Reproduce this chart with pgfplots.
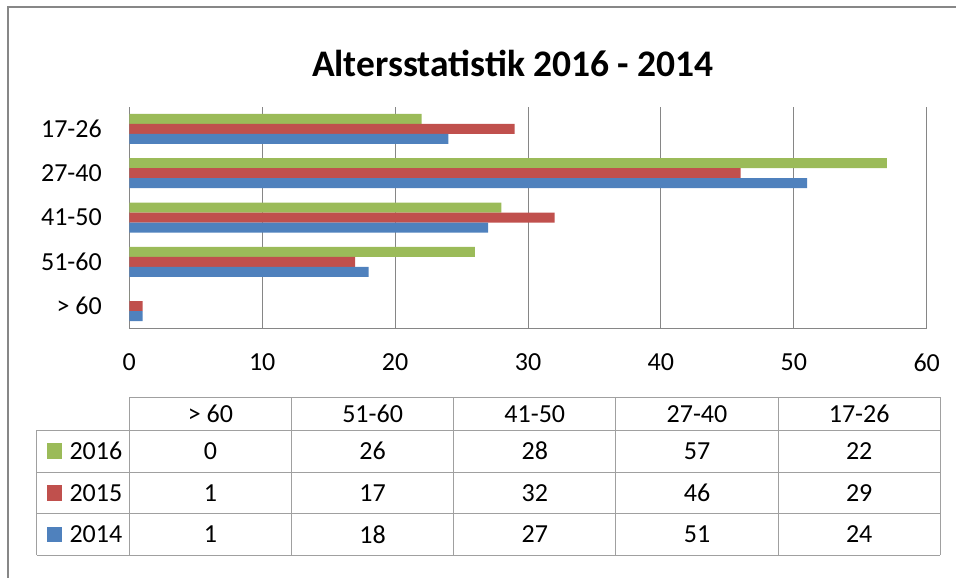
\documentclass[border=0pt]{standalone}
\usepackage{pgfplots}
\pgfplotsset{compat=1.18}
\usepackage{pgfplotstable}
\usepackage{fontspec}
\setmainfont{Carlito}
\definecolor{c16}{HTML}{9BBB59}
\definecolor{c15}{HTML}{C0504D}
\definecolor{c14}{HTML}{4F81BD}
\definecolor{gridc}{HTML}{868686}
\definecolor{tabc}{HTML}{A0A0A0}
\definecolor{framec}{HTML}{878787}

\pgfplotstableread[col sep=comma]{
idx,cat,y2016,y2015,y2014
0,> 60,0,1,1
1,51-60,26,17,18
2,41-50,28,32,27
3,27-40,57,46,51
4,17-26,22,29,24
}\data

\begin{document}
\begin{tikzpicture}[x=1pt,y=1pt,tf/.style={font=\fontsize{26}{30}\selectfont,inner sep=0pt}]
\path[use as bounding box] (0,0) rectangle (956,-578);
% outer frame
\draw[framec,line width=2pt] (8,-600) -- (8,-7) -- (980,-7);
% title
\node[font=\fontsize{37.5}{44}\selectfont\bfseries] at (513,-63) {Altersstatistik 2016 - 2014};
\begin{axis}[
  at={(129.3pt,-328.3pt)}, anchor=south west,
  scale only axis, width=797.4pt, height=221.6pt,
  xmin=0, xmax=60, ymin=-0.5, ymax=4.5,
  xtick={0,10,...,60}, ytick={0,...,4},
  yticklabels={{> 60},51-60,41-50,27-40,17-26},
  xmajorgrids, major grid style={gridc,line width=1pt},
  major tick length=0pt,
  axis x line*=bottom, axis y line*=left,
  axis line style={gridc,line width=1pt,-},
  ticklabel style={font=\fontsize{26}{30}\selectfont},
  /pgf/number format/assume math mode=true,
  xticklabel style={yshift=-22pt},
  yticklabel style={xshift=-24pt},
  xbar, bar width=10pt,
  clip=false,
]
\addplot[fill=c16,draw=none,bar shift=10pt] table[x=y2016,y=idx]{\data};
\addplot[fill=c15,draw=none,bar shift=0pt] table[x=y2015,y=idx]{\data};
\addplot[fill=c14,draw=none,bar shift=-10pt] table[x=y2014,y=idx]{\data};
\end{axis}
% data table
\draw[tabc,line width=1pt] (129.3,-397.3) -- (940.3,-397.3);
\foreach \yy in {430,472.3,513.3,555.3}{
  \draw[tabc,line width=1pt] (36.7,-\yy) -- (940.3,-\yy);
}
\draw[tabc,line width=1pt] (36.7,-430) -- (36.7,-555.3);
\foreach \xx in {129.3,291.5,453.7,615.9,778.1,940.3}{
  \draw[tabc,line width=1pt] (\xx,-397.3) -- (\xx,-555.3);
}
% legend keys
\fill[c16] (46.7,-443.4) rectangle (62.3,-459.0);
\node[tf,anchor=west] at (69.3,-451.2) {2016};
\fill[c15] (46.7,-485.0) rectangle (62.3,-500.6);
\node[tf,anchor=west] at (69.3,-492.8) {2015};
\fill[c14] (46.7,-526.5) rectangle (62.3,-542.1);
\node[tf,anchor=west] at (69.3,-534.3) {2014};
% table values
\foreach \r in {0,...,4}{
  \pgfmathsetmacro\cx{210.4+162.2*\r}
  \pgfplotstablegetelem{\r}{cat}\of\data
  \node[tf] at (\cx,-413.7) {\pgfplotsretval};
  \pgfplotstablegetelem{\r}{y2016}\of\data
  \node[tf] at (\cx,-451.2) {\pgfplotsretval};
  \pgfplotstablegetelem{\r}{y2015}\of\data
  \node[tf] at (\cx,-492.8) {\pgfplotsretval};
  \pgfplotstablegetelem{\r}{y2014}\of\data
  \node[tf] at (\cx,-534.3) {\pgfplotsretval};
}
\end{tikzpicture}
\end{document}
